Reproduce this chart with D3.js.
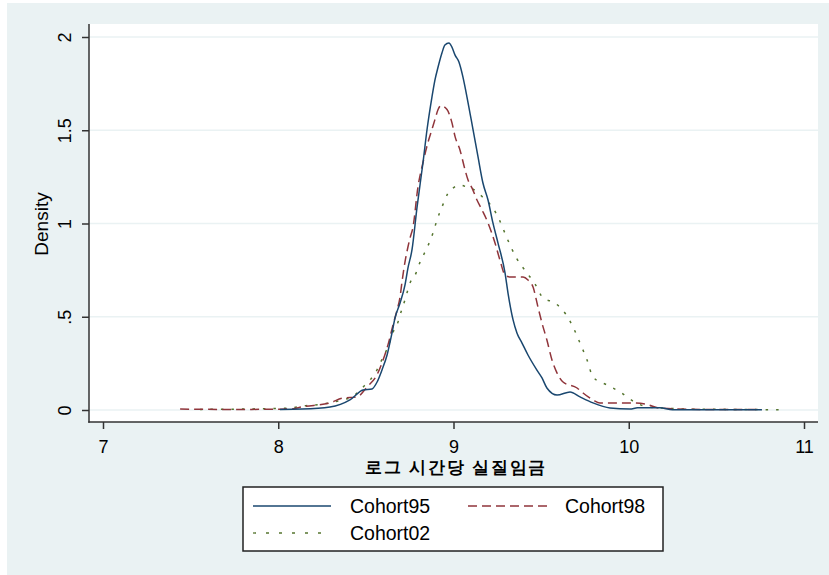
<!DOCTYPE html>
<html>
<head>
<meta charset="utf-8">
<script src="https://cdn.jsdelivr.net/npm/d3@7"></script>
<style>
  html, body { margin: 0; padding: 0; background: #ffffff; }
  svg { display: block; }
  text { font-family: "Liberation Sans", Arial, sans-serif; fill: #000; }
</style>
</head>
<body>
<svg id="chart" width="829" height="575"></svg>
<script>
// ---- data ----
const xTicks = [7, 8, 9, 10, 11];
const yTicks = [0, 0.5, 1, 1.5, 2];
const yTickLabels = ["0", ".5", "1", "1.5", "2"];
const seriesNames = ["Cohort95", "Cohort98", "Cohort02"];
const xTitle = "로그 시간당 실질임금";
const yTitle = "Density";

const cohort95 = [
  [8.01,0.003],[8.136,0.005],[8.295,0.016],[8.409,0.054],[8.484,0.107],[8.535,0.113],
  [8.564,0.150],[8.592,0.215],[8.621,0.295],[8.649,0.413],[8.666,0.493],[8.695,0.574],
  [8.723,0.670],[8.740,0.761],[8.763,0.858],[8.792,1.088],[8.826,1.327],[8.849,1.504],
  [8.877,1.678],[8.894,1.769],[8.912,1.839],[8.934,1.914],[8.951,1.957],[8.974,1.968],
  [8.991,1.946],[9.009,1.903],[9.031,1.866],[9.054,1.785],[9.077,1.678],[9.094,1.592],
  [9.112,1.501],[9.140,1.357],[9.168,1.217],[9.197,1.126],[9.225,1.003],[9.254,0.895],
  [9.294,0.735],[9.311,0.627],[9.340,0.483],[9.362,0.413],[9.391,0.359],[9.425,0.295],
  [9.476,0.214],[9.505,0.172],[9.533,0.118],[9.591,0.080],[9.665,0.097],[9.722,0.070],
  [9.796,0.038],[9.893,0.011],[10.007,0.005],[10.05,0.012],[10.178,0.012],[10.25,0.002],
  [10.406,0.001],[10.760,0.001]
];
const cohort98 = [
  [7.44,0.005],[7.725,0.003],[8.067,0.005],[8.141,0.018],[8.295,0.038],[8.369,0.064],
  [8.449,0.070],[8.506,0.123],[8.563,0.188],[8.598,0.268],[8.626,0.349],[8.655,0.456],
  [8.678,0.536],[8.695,0.606],[8.706,0.686],[8.723,0.793],[8.740,0.874],[8.752,0.922],
  [8.769,0.981],[8.797,1.195],[8.826,1.327],[8.854,1.434],[8.877,1.504],[8.894,1.557],
  [8.912,1.611],[8.929,1.632],[8.963,1.611],[8.991,1.541],[9.009,1.466],[9.037,1.394],
  [9.066,1.287],[9.083,1.233],[9.106,1.190],[9.134,1.126],[9.163,1.072],[9.197,1.003],
  [9.237,0.895],[9.265,0.804],[9.294,0.724],[9.322,0.713],[9.397,0.713],[9.425,0.697],
  [9.454,0.659],[9.482,0.552],[9.505,0.466],[9.533,0.375],[9.562,0.268],[9.591,0.198],
  [9.625,0.150],[9.705,0.118],[9.739,0.091],[9.796,0.054],[9.836,0.038],[10.007,0.038],
  [10.093,0.032],[10.178,0.010],[10.406,0.003],[10.749,0.002]
];
const cohort02 = [
  [7.553,0.003],[8.050,0.010],[8.158,0.023],[8.255,0.032],[8.364,0.054],[8.421,0.070],
  [8.478,0.118],[8.524,0.161],[8.563,0.214],[8.598,0.284],[8.626,0.338],[8.655,0.418],
  [8.678,0.456],[8.695,0.509],[8.723,0.590],[8.752,0.681],[8.786,0.734],[8.809,0.793],
  [8.849,0.869],[8.883,0.949],[8.906,1.019],[8.934,1.088],[8.969,1.163],[8.997,1.190],
  [9.037,1.206],[9.077,1.195],[9.112,1.184],[9.168,1.140],[9.225,1.083],[9.265,1.013],
  [9.305,0.922],[9.362,0.810],[9.419,0.735],[9.465,0.676],[9.511,0.601],[9.579,0.574],
  [9.636,0.520],[9.682,0.445],[9.722,0.359],[9.762,0.268],[9.796,0.177],[9.876,0.134],
  [9.950,0.097],[10.024,0.048],[10.110,0.016],[10.190,0.011],[10.406,0.004],[10.635,0.003],
  [10.880,0.001]
];

// ---- layout ----
const svg = d3.select("#chart");
const plot = { left: 89, right: 818, top: 24, bottom: 422 };

const x = d3.scaleLinear().domain([7, 11]).range([103, 804]);
const y = d3.scaleLinear().domain([0, 2]).range([410, 37]);

// outer graph region
svg.append("rect").attr("x", 7).attr("y", 3).attr("width", 822).attr("height", 572)
  .attr("fill", "#eaf2f3");
// plot region
svg.append("rect").attr("x", plot.left).attr("y", plot.top)
  .attr("width", plot.right - plot.left).attr("height", plot.bottom - plot.top)
  .attr("fill", "#ffffff");

// gridlines
svg.append("g").selectAll("line").data(yTicks).join("line")
  .attr("x1", plot.left).attr("x2", plot.right)
  .attr("y1", d => y(d)).attr("y2", d => y(d))
  .attr("stroke", "#eaf2f3").attr("stroke-width", 1.5);

// curves
const line = d3.line().x(d => x(d[0])).y(d => y(d[1])).curve(d3.curveMonotoneX);
const styles = [
  { data: cohort95, color: "#1a476f", dash: null },
  { data: cohort98, color: "#90353b", dash: "9,5" },
  { data: cohort02, color: "#55752f", dash: "2.5,8" }
];
const curves = svg.append("g");
[styles[2], styles[1], styles[0]].forEach(s => {
  curves.append("path").attr("d", line(s.data))
    .attr("fill", "none").attr("stroke", s.color).attr("stroke-width", 1.5)
    .attr("stroke-dasharray", s.dash);
});

// y axis
const yAxis = d3.axisLeft(y).tickValues(yTicks).tickSize(7)
  .tickFormat((d, i) => yTickLabels[i]);
const gy = svg.append("g").attr("transform", `translate(${plot.left},0)`).call(yAxis);
gy.select(".domain").remove();
gy.selectAll(".tick line").attr("stroke", "#333").attr("stroke-width", 1.5);
gy.selectAll(".tick text")
  .attr("x", null).attr("dy", null)
  .attr("transform", "translate(-18,0) rotate(-90)")
  .attr("text-anchor", "middle")
  .attr("font-size", 18).attr("font-family", "'Liberation Sans', Arial, sans-serif")
  .attr("fill", "#000");
svg.append("line").attr("x1", plot.left).attr("x2", plot.left)
  .attr("y1", plot.top).attr("y2", plot.bottom + 0.75)
  .attr("stroke", "#333").attr("stroke-width", 1.5);

// x axis
const xAxis = d3.axisBottom(x).tickValues(xTicks).tickSize(7).tickFormat(d3.format("d"));
const gx = svg.append("g").attr("transform", `translate(0,${plot.bottom})`).call(xAxis);
gx.select(".domain").remove();
gx.selectAll(".tick line").attr("stroke", "#333").attr("stroke-width", 1.5);
gx.selectAll(".tick text")
  .attr("y", 31).attr("dy", null)
  .attr("font-size", 18).attr("font-family", "'Liberation Sans', Arial, sans-serif")
  .attr("fill", "#000");
svg.append("line").attr("x1", plot.left - 0.75).attr("x2", plot.right)
  .attr("y1", plot.bottom).attr("y2", plot.bottom)
  .attr("stroke", "#333").attr("stroke-width", 1.5);

// titles
svg.append("text").attr("x", 456).attr("y", 473).attr("text-anchor", "middle")
  .attr("font-size", 17).attr("font-weight", "bold")
  .attr("font-family", "'Noto Sans CJK KR', sans-serif")
  .attr("letter-spacing", 1.8)
  .text(xTitle);
svg.append("text").attr("transform", "translate(48,224) rotate(-90)")
  .attr("text-anchor", "middle").attr("font-size", 19)
  .text(yTitle);

// legend
const lg = svg.append("g");
lg.append("rect").attr("x", 243).attr("y", 487).attr("width", 420).attr("height", 64)
  .attr("fill", "#ffffff").attr("stroke", "#222").attr("stroke-width", 1.5);
const legendPos = [
  { x1: 253, x2: 331, tx: 350, y: 506 },
  { x1: 468, x2: 547, tx: 565, y: 506 },
  { x1: 253, x2: 331, tx: 350, y: 533 }
];
styles.forEach((s, i) => {
  const p = legendPos[i];
  lg.append("line").attr("x1", p.x1).attr("x2", p.x2).attr("y1", p.y).attr("y2", p.y)
    .attr("stroke", s.color).attr("stroke-width", 1.3)
    .attr("stroke-dasharray", i === 1 ? "9,5" : (i === 2 ? "3,10" : null));
  lg.append("text").attr("x", p.tx).attr("y", p.y + 7).attr("font-size", 19.5)
    .text(seriesNames[i]);
});
</script>
</body>
</html>
